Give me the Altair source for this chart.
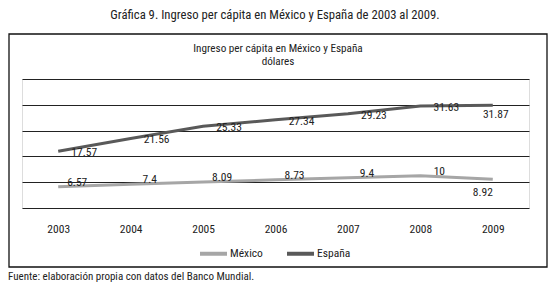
import altair as alt
import pandas as pd

years = ["2003", "2004", "2005", "2006", "2007", "2008", "2009"]
mexico = [6.57, 7.4, 8.09, 8.73, 9.4, 10, 8.92]
espana = [17.57, 21.56, 25.33, 27.34, 29.23, 31.63, 31.87]
series = ["México", "España"]
colors = ["#a6a6a6", "#595959"]
grid_values = [0, 8, 16, 24, 32, 40]

main_title = "Gráfica 9. Ingreso per cápita en México y España de 2003 al 2009."
inner_title = ["Ingreso per cápita en México y España", "dólares"]
source = "Fuente: elaboración propia con datos del Banco Mundial."

FONT = "Roboto Condensed, Liberation Sans, Arial, sans-serif"
TXT = "#222"

rows = []
for s, vals in zip(series, [mexico, espana]):
    for i, (y, v) in enumerate(zip(years, vals)):
        rows.append({"year": y, "serie": s, "valor": v, "label": f"{v:g}", "last": i == len(years) - 1})
df = pd.DataFrame(rows)

x = alt.X("year:O", title=None, sort=years,
          scale=alt.Scale(type="point", padding=0.5),
          axis=alt.Axis(labelAngle=0, domain=False, ticks=False, labelPadding=15,
                        labelFont=FONT, labelFontSize=11.5, labelColor=TXT))
y = alt.Y("valor:Q", title=None, scale=alt.Scale(domain=[0, 40], nice=False, zero=True),
          axis=alt.Axis(values=grid_values, labels=False, ticks=False, domain=False,
                        grid=True, gridColor="#222", gridWidth=1))
color = alt.Color("serie:N", sort=series,
                  scale=alt.Scale(domain=series, range=colors),
                  legend=alt.Legend(orient="none", legendX=176, legendY=159, direction="horizontal",
                                    title=None, symbolType="stroke", symbolStrokeWidth=4,
                                    symbolSize=729, labelFont=FONT, labelFontSize=11.5,
                                    labelColor=TXT, columnPadding=16, labelOffset=1))

base = alt.Chart(df)
lines = base.mark_line(strokeWidth=3).encode(x=x, y=y, color=color)

txt = dict(font=FONT, fontSize=11.5, color=TXT, baseline="middle", align="center")
esp_lab = base.transform_filter("datum.serie == 'España' && !datum.last").mark_text(dx=26, dy=2, **txt).encode(x=x, y=y, text="label:N")
esp_last = base.transform_filter("datum.serie == 'España' && datum.last").mark_text(dx=3, dy=10, **txt).encode(x=x, y=y, text="label:N")
mex_lab = base.transform_filter("datum.serie == 'México' && !datum.last").mark_text(dx=19, dy=-4, **txt).encode(x=x, y=y, text="label:N")
mex_last = base.transform_filter("datum.serie == 'México' && datum.last").mark_text(dx=-10, dy=14, **txt).encode(x=x, y=y, text="label:N")

frame = alt.Chart(pd.DataFrame({"k": [0]})).mark_rect(fillOpacity=0, stroke="#111", strokeWidth=1.3).encode(
    x=alt.value(-13), x2=alt.value(525), y=alt.value(-45), y2=alt.value(188))

title = alt.Chart(pd.DataFrame({"t": [main_title]})).mark_text(font=FONT, fontSize=12.7, color=TXT, baseline="middle", align="center").encode(
    text="t:N", x=alt.value(253), y=alt.value(-64))
inner1 = alt.Chart(pd.DataFrame({"t": [inner_title[0]]})).mark_text(font=FONT, fontSize=11.2, color=TXT, baseline="middle", align="center").encode(
    text="t:N", x=alt.value(256), y=alt.value(-30))
inner2 = alt.Chart(pd.DataFrame({"t": [inner_title[1]]})).mark_text(font=FONT, fontSize=11.2, color=TXT, baseline="middle", align="center").encode(
    text="t:N", x=alt.value(256), y=alt.value(-17))
fuente = alt.Chart(pd.DataFrame({"t": [source]})).mark_text(font=FONT, fontSize=11, color=TXT, baseline="alphabetic", align="left").encode(
    text="t:N", x=alt.value(-14), y=alt.value(201))

chart = alt.layer(frame, lines, esp_lab, esp_last, mex_lab, mex_last, title, inner1, inner2, fuente).properties(
    width=507, height=129, autosize="none",
    padding={"left": 14, "top": 71, "right": 20, "bottom": 74},
).configure_view(stroke=None).configure(background="white")

chart.save("out.html", embed_options={"renderer": "svg", "actions": False})
